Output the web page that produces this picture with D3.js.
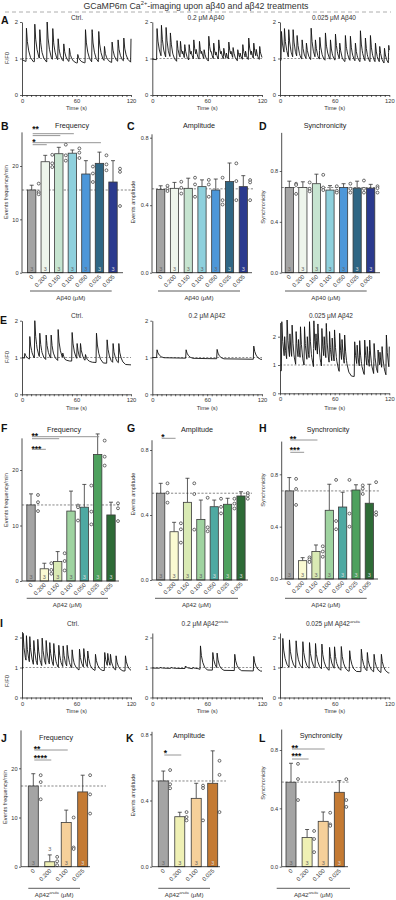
<!DOCTYPE html>
<html><head><meta charset="utf-8">
<script src="https://cdn.jsdelivr.net/npm/d3@7"></script>
<style>body{margin:0;background:#fff}svg{display:block}</style>
</head><body><svg id="c" width="396" height="900"></svg>
<script>
// ================= DATA =================
const timeTickLabels = [0, 60, 120];
const traceYTicks = [0, 1, 2];
const conc40 = ["0","0.200","0.150","0.100","0.050","0.025","0.005"];
const conc42 = ["0","0.200","0.150","0.100","0.050","0.025","0.005"];
const concArctic = ["0","0.200","0.100","0.025"];
const nCells40 = [3,3,3,3,3,3,3];
const nCells42 = [3,3,3,3,3,3,3];
const nCellsArctic = [3,3,3,3];

// Trace spikes (time s, peak F/F0) and baseline knots
const a1Times = [4.4,13.6,19.1,27.2,33.4,39.3,45.5,51.7,60.9,69.4,76.7,84.0,90.3,98.7,105.3,111.6,119.6];
const a1Peaks = [1.83,1.94,1.79,2.0,1.82,1.54,1.40,1.28,1.11,1.79,1.79,1.74,1.33,1.45,1.51,1.56,1.70];
const a1Base = [[0,0.97],[4,0.92],[60,0.88],[120,0.9]];
const a2Times = [4.7,9.5,14.6,19.3,26.6,30.3,32.8,35.0,39.8,42.0,44.9,47.5,51.1,53.5,56.2,61.3,63.8,66.7,69.2,72.2,74.8,77.7,80.5,83.2,85.6,87.9,93.0,95.5,98.5,101.5,105.0,108.0,110.5,113.2,117.0];
const a2Peaks = [1.82,1.91,1.85,1.70,1.49,1.47,1.2,1.38,1.38,1.2,1.51,1.25,1.47,1.2,1.24,1.61,1.2,1.42,1.18,1.51,1.2,1.28,1.15,1.45,1.2,1.30,1.24,1.15,1.38,1.2,1.56,1.2,1.42,1.25,1.33];
const a2Base = [[0,0.98],[20,0.93],[28,0.9],[120,0.9]];
const a3Times = [1.1,4.4,9.1,13.9,18.3,23.8,28.5,33.7,38.4,43.2,49.4,54.9,60.4,65.1,71.3,76.8,82.3,87.8,93.3,98.8,104.3,109.0,114.2,118.9];
const a3Peaks = [1.74,1.82,1.79,1.79,1.63,1.51,1.42,1.83,1.51,1.58,1.70,1.51,1.67,1.42,1.63,1.61,1.42,1.76,1.56,1.63,1.42,1.33,1.28,1.36];
const a3Base = [[0,0.95],[60,0.9],[120,0.82]];
const e1Times = [2.6,8.1,13.6,19.1,26.1,31.6,39.3,44.4,54.7,60.2,63.9,69.4,81.5,93.2,99.8,106.1];
const e1Peaks = [1.11,1.57,2.0,1.66,1.61,1.61,1.76,1.12,1.68,1.38,1.38,1.08,1.66,1.48,1.38,1.38];
const e1Base = [[0,1.0],[10,0.93],[60,0.9],[120,0.8]];
const e2Times = [4.7,36.5,70.4,110.5];
const e2Peaks = [1.21,1.21,1.22,1.31];
const e2Base = [[0,1.0],[60,0.97],[120,0.95]];
const e3Times = [1.5,4.6,7.3,10.4,12.8,17.2,19.8,22.0,26.4,29.5,31.9,36.7,39.0,41.1,45.5,48.0,50.3,53.9,56.8,59.4,65.0,67.6,70.5,81.5,84.2,87.0,92.5,95.3,98.0,102.8,107.2,109.3,111.6,116.3,119.5];
const e3Peaks = [2.53,2.0,2.59,2.1,2.41,2.18,1.9,2.35,2.35,2.0,2.53,2.56,2.1,2.45,2.29,2.0,2.47,2.18,1.95,2.24,2.12,1.9,2.06,1.82,1.7,1.86,1.88,1.65,1.88,1.76,1.53,1.45,1.65,2.06,1.65];
const e3Base = [[0,0.8],[70,0.65],[80,0.6],[120,0.5]];
const i1Times = [0.7,4.4,8.1,12.5,16.9,21.7,26.1,30.1,34.5,40.0,44.8,49.2,54.7,62.8,67.5,71.9,80.4,90.6,93.9,96.9,103.1,113.4];
const i1Peaks = [2.14,2.06,2.03,1.90,1.94,1.98,1.90,1.83,1.80,1.74,1.72,1.74,1.59,1.61,1.63,1.55,1.44,1.50,1.47,1.44,1.39,1.39];
const i1Base = [[0,0.95],[60,0.92],[120,0.88]];
const i2Times = [8,20,35.7,44,52.2,65.7,70.4,89.7,110.5];
const i2Peaks = [1.0,1.0,1.05,1.0,1.72,1.5,1.48,1.44,1.37];
const i2Base = [[0,0.98],[50,0.96],[54,0.92],[120,0.88]];
const i3Times = [2.6,9.9,17.2,24.6,31.9,38.5,45.5,53.9,59.4,66.8,76.0,88.8,95.4,102.8,110.8];
const i3Peaks = [1.97,1.92,1.89,1.86,1.83,1.80,1.78,1.67,1.69,1.70,1.56,1.61,1.50,1.44,1.44];
const i3Base = [[0,1.0],[60,0.9],[120,0.82]];
// rendering kernel of one Ca2+ transient (seconds after onset, fraction of peak)
const kernelT = [0,0.5,1.5,3,5,8];
const kernelV = [0,1,0.6,0.32,0.12,0];

// Bar data (mean, upper error, individual points)
const freq40Mean = [15.5,20.8,22.3,22.4,18.5,20.5,17.0];
const freq40Err  = [16.4,22.0,23.5,23.0,21.0,22.6,21.0];
const freq40Pts  = [[16.7,15.1,14.7],[22.1,20.5,19.8],[24.0,22.0,21.0],[23.3,22.5,21.5],[19.9,18.6,17.0],[22.0,20.3,19.2],[19.5,18.9,12.5]];
const amp40Mean = [0.493,0.50,0.50,0.51,0.49,0.54,0.51];
const amp40Err  = [0.515,0.535,0.56,0.55,0.555,0.65,0.575];
const amp40Pts  = [[0.515,0.497,0.484],[0.539,0.503,0.469],[0.563,0.523,0.45],[0.55,0.523,0.45],[0.563,0.43,0.404],[0.648,0.543,0.43],[0.549,0.535,0.43]];
const sync40Mean = [0.67,0.67,0.70,0.65,0.67,0.665,0.665];
const sync40Err  = [0.72,0.715,0.775,0.685,0.70,0.72,0.695];
const sync40Pts  = [[0.70,0.69,0.62],[0.71,0.66,0.64],[0.77,0.67,0.65],[0.68,0.645,0.63],[0.70,0.66,0.63],[0.725,0.66,0.63],[0.68,0.665,0.63]];
const freq42Mean = [13.7,2.2,3.5,12.6,13.3,22.8,11.9];
const freq42Err  = [15.7,3.2,5.3,16.2,17.4,26.5,14.2];
const freq42Pts  = [[15.5,14.2,12.6],[3.2,2.0,1.3],[5.0,3.6,1.9],[13.6,13.3,10.9],[17.2,12.5,10.2],[25.3,22.4,20.8],[14.0,13.1,10.8]];
const amp42Mean = [0.534,0.297,0.478,0.373,0.451,0.466,0.517];
const amp42Err  = [0.595,0.355,0.626,0.492,0.492,0.503,0.543];
const amp42Pts  = [[0.595,0.537,0.476],[0.349,0.312,0.23],[0.595,0.529,0.31],[0.506,0.324,0.30],[0.50,0.45,0.41],[0.50,0.47,0.44],[0.535,0.52,0.50]];
const sync42Mean = [0.673,0.14,0.21,0.525,0.55,0.68,0.579];
const sync42Err  = [0.775,0.163,0.26,0.724,0.663,0.72,0.724];
const sync42Pts  = [[0.765,0.688,0.566],[0.165,0.15,0.13],[0.25,0.21,0.17],[0.757,0.443,0.38],[0.757,0.50,0.40],[0.715,0.69,0.65],[0.74,0.51,0.49]];
const freqArcMean = [16.4,1.0,9.0,15.2];
const freqArcErr  = [18.9,2.4,11.5,18.6];
const freqArcPts  = [[18.6,17.2,13.7],[2.0,1.1,0.3],[10.0,3.9,3.6],[18.6,14.7,10.8]];
const ampArcMean = [0.518,0.302,0.413,0.504];
const ampArcErr  = [0.578,0.329,0.504,0.70];
const ampArcPts  = [[0.584,0.498,0.474],[0.33,0.30,0.28],[0.49,0.475,0.28],[0.64,0.555,0.33]];
const syncArcMean = [0.579,0.2,0.311,0.51];
const syncArcErr  = [0.709,0.255,0.375,0.59];
const syncArcPts  = [[0.705,0.601,0.457],[0.245,0.19,0.10],[0.37,0.29,0.28],[0.60,0.457,0.41]];

const colors40 = ["#a4a4a4","#eef5ec","#c6e4d0","#8ed0dd","#4d97d9","#2f6684","#2b3a8e"];
const colors42 = ["#a4a4a4","#fafad2","#d9eab4","#9fd3a0","#4ea9a2","#4ea15e","#2e6b37"];
const colorsArc = ["#a4a4a4","#eff0b4","#f6d09a","#c47a33"];

const sigFreq40 = [{stars:"**", targets:["0.100","0.150"]},{stars:"*", targets:["0.025","0.200"]}];
const sigFreq42 = [{stars:"**", targets:["0.025","0.150"]},{stars:"***", targets:["0.200"]}];
const sigAmp42  = [{stars:"*", targets:["0.200"]}];
const sigSync42 = [{stars:"**", targets:["0.150"]},{stars:"***", targets:["0.200"]}];
const sigFreqArc = [{stars:"**", targets:["0.100"]},{stars:"****", targets:["0.200"]}];
const sigAmpArc  = [{stars:"*", targets:["0.200"]}];
const sigSyncArc = [{stars:"**", targets:["0.100"]},{stars:"***", targets:["0.200"]}];

// ================= DRAW =================
const FONT = "'Liberation Sans', Arial, Helvetica, sans-serif";
const svg = d3.select("#c");
svg.append("rect").attr("width",396).attr("height",900).attr("fill","#fff");

function txt(x,y,s,o={}){
  const t = svg.append("text").attr("x",x).attr("y",y).attr("font-family",FONT)
    .attr("font-size",o.fs||6).attr("fill",o.fill||"#222").attr("text-anchor",o.anchor||"middle")
    .attr("font-weight",o.bold?"bold":"normal");
  if(o.rot) t.attr("transform",`rotate(${o.rot},${x},${y})`);
  if(Array.isArray(s)){
    s.forEach(part=>{
      const sp = t.append("tspan").text(part.t);
      if(part.sup){ sp.attr("dy",-o.fs*0.4).attr("font-size",o.fs*0.65); if(part.it) sp.attr("font-style","italic"); }
      if(part.down){ sp.attr("dy",o.fs*0.4); }
    });
  } else t.text(s);
  return t;
}
function styleAxis(g, fs){
  g.attr("font-size",fs).attr("font-family",FONT);
  g.selectAll("path.domain").attr("stroke","#222").attr("stroke-width",0.8);
  g.selectAll(".tick line").attr("stroke","#222").attr("stroke-width",0.7);
  g.selectAll(".tick text").attr("fill","#333");
}

// title
txt(196,8.5,[{t:"GCaMP6m Ca"},{t:"2+",sup:true},{t:"-imaging upon aβ40 and aβ42 treatments",down:true}],{fs:8.8,fill:"#333"});
svg.append("line").attr("x1",5).attr("x2",391).attr("y1",12).attr("y2",12).attr("stroke","#999").attr("stroke-width",0.8).attr("stroke-dasharray","4,3");

// panel letters
[["A",1,23.5],["B",1,130],["C",127,130],["D",259,130],["E",0,324],["F",1,432],["G",127,432],["H",259,432],["I",0,627],["J",1,741.5],["K",126,741.5],["L",259,741.5]]
  .forEach(([l,x,y])=>txt(x,y,l,{fs:10.5,bold:true,anchor:"start",fill:"#111"}));

function buildTrace(times, peaks, base){
  const kT=kernelT, kV=kernelV, kEnd=kT[kT.length-1];
  const kern = dt => { if(dt<=0||dt>=kEnd) return 0; for(let i=1;i<kT.length;i++){ if(dt<=kT[i]){ const f=(dt-kT[i-1])/(kT[i]-kT[i-1]); return kV[i-1]+f*(kV[i]-kV[i-1]); } } return 0; };
  const baseAt = t => { for(let i=1;i<base.length;i++){ if(t<=base[i][0]){ const f=(t-base[i-1][0])/(base[i][0]-base[i-1][0]); return base[i-1][1]+f*(base[i][1]-base[i-1][1]); } } return base[base.length-1][1]; };
  const amps=[];
  times.forEach((t,i)=>{ const tp=t+kT[1]; let v=baseAt(tp); for(let j=0;j<i;j++) v+=amps[j]*kern(tp-times[j]); amps.push(Math.max(0,peaks[i]-v)); });
  const ts=new Set([0,120]); base.forEach(b=>ts.add(b[0]));
  times.forEach(t=>kT.forEach(k=>{ if(t+k<120) ts.add(+(t+k).toFixed(3)); }));
  return Array.from(ts).filter(t=>t>=0&&t<=120).sort((a,b)=>a-b).map(t=>{ let v=baseAt(t); times.forEach((tt,j)=>{ v+=amps[j]*kern(t-tt); }); return [t,v]; });
}

function drawTrace(p, times, peaks, base){
  const x = d3.scaleLinear().domain([0,120]).range([p.x0,p.x1]);
  const y = d3.scaleLinear().domain([0,p.yTop]).range([p.yZero,p.yZero-p.ppu*p.yTop]);
  svg.append("line").attr("x1",x(0)).attr("x2",x(120)).attr("y1",y(1)).attr("y2",y(1))
    .attr("stroke","#444").attr("stroke-width",0.6).attr("stroke-dasharray","2,1.6");
  svg.append("path").datum(buildTrace(times,peaks,base))
    .attr("d", d3.line().x(d=>x(d[0])).y(d=>y(d[1])))
    .attr("fill","none").attr("stroke","#111").attr("stroke-width",0.9).attr("stroke-linejoin","round");
  const ya = svg.append("g").attr("transform",`translate(${p.x0},0)`)
    .call(d3.axisLeft(y).tickValues(traceYTicks).tickFormat(d3.format("d")).tickSize(2).tickSizeOuter(0).tickPadding(2));
  styleAxis(ya,5.8);
  const xa = svg.append("g").attr("transform",`translate(0,${p.yZero})`)
    .call(d3.axisBottom(x).tickValues(d3.range(0,121,5)).tickSize(2).tickSizeOuter(0).tickPadding(2)
      .tickFormat(d=>timeTickLabels.includes(d)?d:""));
  styleAxis(xa,5.8);
  txt((p.x0+p.x1)/2, p.yZero+p.timeDy, "Time (s)", {fs:5.8,fill:"#333"});
}

const traceX = [[22,131],[152.3,262],[280,389.3]];
// Row A
const rowA = {yZero:95, ppu:36.5, yTop:2, timeDy:14.5};
drawTrace({...rowA, x0:traceX[0][0], x1:traceX[0][1]}, a1Times, a1Peaks, a1Base);
drawTrace({...rowA, x0:traceX[1][0], x1:traceX[1][1]}, a2Times, a2Peaks, a2Base);
drawTrace({...rowA, x0:traceX[2][0], x1:traceX[2][1]}, a3Times, a3Peaks, a3Base);
txt(77,20,"Ctrl.",{fs:6.5,fill:"#333"});
txt(206,20,"0.2 μM Aβ40",{fs:6.5,fill:"#333"});
txt(334,20,"0.025 μM Aβ40",{fs:6.5,fill:"#333"});
txt(8.5,58,"F/F0",{fs:5.8,rot:-90,fill:"#333"});
// Row E
const rowE = {yZero:394.3, ppu:36.8, yTop:2, timeDy:16};
drawTrace({...rowE, x0:traceX[0][0], x1:traceX[0][1]}, e1Times, e1Peaks, e1Base);
drawTrace({...rowE, x0:traceX[1][0], x1:traceX[1][1]}, e2Times, e2Peaks, e2Base);
drawTrace({yZero:393.3, ppu:28.3, yTop:2.5, timeDy:17, x0:traceX[2][0], x1:traceX[2][1]}, e3Times, e3Peaks, e3Base);
txt(77,317.5,"Ctrl.",{fs:6.5,fill:"#333"});
txt(207,317.5,"0.2 μM Aβ42",{fs:6.5,fill:"#333"});
txt(331,317.5,"0.025 μM Aβ42",{fs:6.5,fill:"#333"});
txt(8.5,357,"F/F0",{fs:5.8,rot:-90,fill:"#333"});
// Row I
const rowI = {yZero:697.5, ppu:30, yTop:2.15, timeDy:15};
drawTrace({...rowI, yTop:2.2, x0:traceX[0][0], x1:traceX[0][1]}, i1Times, i1Peaks, i1Base);
drawTrace({...rowI, x0:traceX[1][0], x1:traceX[1][1]}, i2Times, i2Peaks, i2Base);
drawTrace({...rowI, x0:traceX[2][0], x1:traceX[2][1]}, i3Times, i3Peaks, i3Base);
txt(73,626,"Ctrl.",{fs:6.5,fill:"#333"});
txt(205,626,[{t:"0.2 μM Aβ42"},{t:"arctic",sup:true,it:true}],{fs:6.5,fill:"#333"});
txt(333,626,[{t:"0.025 μM Aβ42"},{t:"arctic",sup:true,it:true}],{fs:6.5,fill:"#333"});
txt(8.5,681,"F/F0",{fs:5.8,rot:-90,fill:"#333"});

// ---------- bar panels ----------
function drawBars(p, cats, means, errs, pts, cols, ns, refVal, sig){
  const y = d3.scaleLinear().domain([0,p.tickMax]).range([p.yZero,p.tickPx]);
  const x = d3.scalePoint().domain(cats).range(p.centers);
  const bw = p.bw;
  svg.append("line").attr("x1",p.axisX).attr("x2",p.refEnd).attr("y1",y(refVal)).attr("y2",y(refVal))
    .attr("stroke","#555").attr("stroke-width",0.7).attr("stroke-dasharray","2.2,1.6");
  cats.forEach((c,i)=>{
    const cx = x(c);
    svg.append("line").attr("x1",cx).attr("x2",cx).attr("y1",y(means[i])).attr("y2",y(errs[i])).attr("stroke","#333").attr("stroke-width",0.8);
    svg.append("line").attr("x1",cx-2).attr("x2",cx+2).attr("y1",y(errs[i])).attr("y2",y(errs[i])).attr("stroke","#333").attr("stroke-width",0.8);
    svg.append("rect").attr("x",cx-bw/2).attr("y",y(means[i])).attr("width",bw).attr("height",y(0)-y(means[i]))
      .attr("fill",cols[i]).attr("stroke","#3a3a3a").attr("stroke-width",0.8);
    const dark = d3.hsl(cols[i]).l < 0.55;
    const tall = (y(0)-y(means[i])) > 9;
    txt(cx, tall ? p.yZero-1.8 : y(errs[i])-3.5, ns[i], {fs:5.5, fill: tall ? (dark?"#d8d8d8":"#666") : "#666"});
    pts[i].forEach(v=>{
      svg.append("circle").attr("cx",cx+p.dotDx).attr("cy",y(v)).attr("r",1.45)
        .attr("fill","#fff").attr("stroke","#222").attr("stroke-width",0.65);
    });
    txt(cx+2, p.yZero+4.5, c, {fs:5.8, anchor:"end", rot:-45, fill:"#333"});
  });
  svg.append("line").attr("x1",p.axisX).attr("x2",p.baseEnd).attr("y1",p.yZero).attr("y2",p.yZero).attr("stroke","#222").attr("stroke-width",0.8);
  svg.append("line").attr("x1",p.axisX).attr("x2",p.axisX).attr("y1",p.yZero).attr("y2",y(p.axisTop)).attr("stroke","#222").attr("stroke-width",0.8);
  const ya = svg.append("g").attr("transform",`translate(${p.axisX},0)`)
    .call(d3.axisLeft(y).tickValues(p.ticks).tickFormat(p.fmt).tickSize(2).tickSizeOuter(0).tickPadding(1.5));
  ya.select("path.domain").remove();
  styleAxis(ya,5.6);
  svg.append("line").attr("x1",p.group[0]).attr("x2",p.group[1]).attr("y1",p.groupY).attr("y2",p.groupY).attr("stroke","#333").attr("stroke-width",0.8);
  txt((p.group[0]+p.group[1])/2, p.groupY+8.5, p.groupLabel, {fs:6.2, fill:"#333"});
  txt(p.ylabX, p.ylabY, p.ylab, {fs:5.6, rot:-90, fill:"#333"});
  txt(p.titleX, p.titleY, p.title, {fs:7.2, fill:"#222"});
  sig.forEach((s,k)=>{
    const lay = p.sig[k];
    txt(x(cats[0])+0.5, lay.starsY+5, s.stars, {fs:8.5, bold:true, anchor:"start", fill:"#111"});
    s.targets.forEach((t,j)=>{
      svg.append("line").attr("x1",x(cats[0])+1).attr("x2",x(t)+1.5).attr("y1",lay.lineY[j]).attr("y2",lay.lineY[j])
        .attr("stroke","#8a8a8a").attr("stroke-width",0.9);
    });
  });
}

const fmtInt = d3.format("d"), fmt1 = d3.format(".1f");
const lab40 = "Aβ40 (μM)", lab42 = "Aβ42 (μM)";
const labArc = [{t:"Aβ42"},{t:"arctic",sup:true,it:true},{t:" (μM)",down:true}];

// Row B C D
drawBars({axisX:22,yZero:272.7,tickMax:20,tickPx:166,axisTop:26.3,ticks:[0,10,20],fmt:fmtInt,centers:[31.7,113],bw:8.4,dotDx:7,
  refEnd:133,baseEnd:123,group:[30,111.7],groupY:291,groupLabel:lab40,ylab:"Events frequency/min",ylabX:7.5,ylabY:192,
  title:"Frequency",titleX:72,titleY:128,sig:[{starsY:127,lineY:[133.7,135.6]},{starsY:139.5,lineY:[142.7,144.7]}]},
  conc40,freq40Mean,freq40Err,freq40Pts,colors40,nCells40,15.5,sigFreq40);
drawBars({axisX:152,yZero:272.7,tickMax:0.8,tickPx:137.7,axisTop:0.82,ticks:[0,0.4,0.8],fmt:fmt1,centers:[160.7,243.3],bw:8.2,dotDx:6.8,
  refEnd:253,baseEnd:252,group:[158,240],groupY:291,groupLabel:lab40,ylab:"Events amplitude",ylabX:135,ylabY:202,
  title:"Amplitude",titleX:199,titleY:128,sig:[]},
  conc40,amp40Mean,amp40Err,amp40Pts,colors40,nCells40,0.497,[]);
drawBars({axisX:281.7,yZero:272.7,tickMax:0.8,tickPx:171,axisTop:1.1,ticks:[0,0.4,0.8],fmt:fmt1,centers:[289.3,370.7],bw:8.2,dotDx:6.8,
  refEnd:380,baseEnd:380,group:[285,366.7],groupY:291,groupLabel:lab40,ylab:"Synchronicity",ylabX:265,ylabY:207,
  title:"Synchronicity",titleX:325,titleY:128,sig:[]},
  conc40,sync40Mean,sync40Err,sync40Pts,colors40,nCells40,0.67,[]);

// Row F G H
drawBars({axisX:22,yZero:581,tickMax:20,tickPx:470,axisTop:25.7,ticks:[0,10,20],fmt:fmtInt,centers:[31,111],bw:8.4,dotDx:7,
  refEnd:120,baseEnd:119,group:[26.7,108],groupY:598.3,groupLabel:lab42,ylab:"Events frequency/min",ylabX:7.5,ylabY:500,
  title:"Frequency",titleX:64,titleY:432,sig:[{starsY:434,lineY:[436.7,438.7]},{starsY:446.7,lineY:[449.3]}]},
  conc42,freq42Mean,freq42Err,freq42Pts,colors42,nCells42,13.7,sigFreq42);
drawBars({axisX:152,yZero:580,tickMax:0.8,tickPx:450,axisTop:0.86,ticks:[0,0.4,0.8],fmt:fmt1,centers:[160.7,241],bw:8.2,dotDx:6.8,
  refEnd:252,baseEnd:248,group:[155,238],groupY:598.3,groupLabel:lab42,ylab:"Events amplitude",ylabX:135,ylabY:494,
  title:"Amplitude",titleX:197,titleY:432,sig:[{starsY:435,lineY:[438.3]}]},
  conc42,amp42Mean,amp42Err,amp42Pts,colors42,nCells42,0.534,sigAmp42);
drawBars({axisX:281.7,yZero:579,tickMax:0.8,tickPx:474.3,axisTop:1.05,ticks:[0,0.4,0.8],fmt:fmt1,centers:[289.3,369.3],bw:8.2,dotDx:6.8,
  refEnd:380,baseEnd:378,group:[285,366.7],groupY:598.3,groupLabel:lab42,ylab:"Synchronicity",ylabX:265,ylabY:490,
  title:"Synchronicity",titleX:328,titleY:432,sig:[{starsY:436.7,lineY:[440]},{starsY:448.3,lineY:[452.3]}]},
  conc42,sync42Mean,sync42Err,sync42Pts,colors42,nCells42,0.673,sigSync42);

// Row J K L
drawBars({axisX:21,yZero:866.7,tickMax:20,tickPx:768.3,axisTop:27.7,ticks:[0,10,20],fmt:fmtInt,centers:[33.3,82.7],bw:10,dotDx:7.4,
  refEnd:106,baseEnd:90,group:[28.3,80],groupY:888.3,groupLabel:labArc,ylab:"Events frequency/min",ylabX:6.5,ylabY:797,
  title:"Frequency",titleX:56,titleY:740,sig:[{starsY:746.7,lineY:[750]},{starsY:756,lineY:[760]}]},
  concArctic,freqArcMean,freqArcErr,freqArcPts,colorsArc,nCellsArctic,16.4,sigFreqArc);
drawBars({axisX:152,yZero:866.7,tickMax:0.8,tickPx:734.3,axisTop:0.815,ticks:[0,0.4,0.8],fmt:fmt1,centers:[163.3,212.7],bw:10,dotDx:6.8,
  refEnd:226,baseEnd:220,group:[158.3,210],groupY:888.3,groupLabel:labArc,ylab:"Events amplitude",ylabX:135,ylabY:795,
  title:"Amplitude",titleX:189,titleY:738,sig:[{starsY:751,lineY:[755]}]},
  concArctic,ampArcMean,ampArcErr,ampArcPts,colorsArc,nCellsArctic,0.518,sigAmpArc);
drawBars({axisX:281.7,yZero:866.7,tickMax:0.8,tickPx:750,axisTop:0.94,ticks:[0,0.4,0.8],fmt:fmt1,centers:[291,339.3],bw:10,dotDx:7,
  refEnd:350,baseEnd:348,group:[276.7,350],groupY:888.3,groupLabel:labArc,ylab:"Synchronicity",ylabX:265,ylabY:783,
  title:"Synchronicity",titleX:321,titleY:738,sig:[{starsY:745.7,lineY:[749]},{starsY:754.3,lineY:[759]}]},
  concArctic,syncArcMean,syncArcErr,syncArcPts,colorsArc,nCellsArctic,0.58,sigSyncArc);
</script></body></html>
